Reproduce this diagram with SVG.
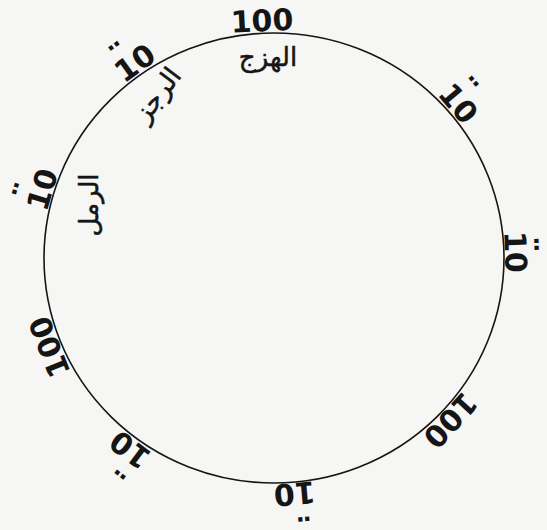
<svg xmlns="http://www.w3.org/2000/svg" width="547" height="530" viewBox="0 0 547 530">
  <style>
    .mark { font-family: "DejaVu Sans", "Liberation Sans", sans-serif; font-size: 30px; font-weight: bold; fill: #151515; text-anchor: middle; }
    .dots { font-family: "DejaVu Sans", "Liberation Sans", sans-serif; font-size: 36px; font-weight: bold; fill: #151515; text-anchor: middle; }
    .name { font-family: "DejaVu Sans", "Noto Sans", sans-serif; font-size: 26px; fill: #151515; stroke: #151515; stroke-width: 0.5; text-anchor: middle; }
  </style>
  <rect width="547" height="530" fill="#f6f6f4"/>
  <g id="connectors">
    <ellipse cx="274" cy="258" rx="230" ry="225" fill="none" stroke="#151515" stroke-width="1.6"/>
  </g>
  <g id="mark-top" transform="rotate(-2.9 274 258)"><text class="mark" x="274" y="31">100</text></g>
  <g id="mark-upper-left" transform="rotate(-35.5 274 258)"><text class="mark" x="274" y="29">10</text><text class="dots" x="267" y="18">¨</text></g>
  <g id="mark-left" transform="rotate(-73.5 274 258)"><text class="mark" x="274" y="27">10</text><text class="dots" x="267" y="16">¨</text></g>
  <g id="mark-upper-right" transform="rotate(50 274 258)"><text class="mark" x="274" y="28">10</text><text class="dots" x="267" y="17">¨</text></g>
  <g id="mark-right" transform="rotate(88.1 274 258)"><text class="mark" x="276" y="27">10</text><text class="dots" x="269" y="21">¨</text></g>
  <g id="mark-lower-right" transform="rotate(132.6 274 258)"><text class="mark" x="274" y="29">100</text></g>
  <g id="mark-bottom" transform="rotate(175 274 258)"><text class="mark" x="274" y="32">10</text><text class="dots" x="267" y="21">¨</text></g>
  <g id="mark-lower-left" transform="rotate(216.9 274 258)"><text class="mark" x="274" y="29">10</text><text class="dots" x="267" y="18">¨</text></g>
  <g id="mark-left-lower" transform="rotate(248.4 274 258)"><text class="mark" x="274" y="27">100</text></g>
  <g id="name-hazaj"><text class="name" x="268" y="66">الهزج</text></g>
  <g id="name-rajaz" transform="rotate(-53 158 95)"><text class="name" x="158" y="103">الرجز</text></g>
  <g id="name-ramal" transform="rotate(-90 90 205)"><text class="name" x="90" y="213">الرمل</text></g>
</svg>
